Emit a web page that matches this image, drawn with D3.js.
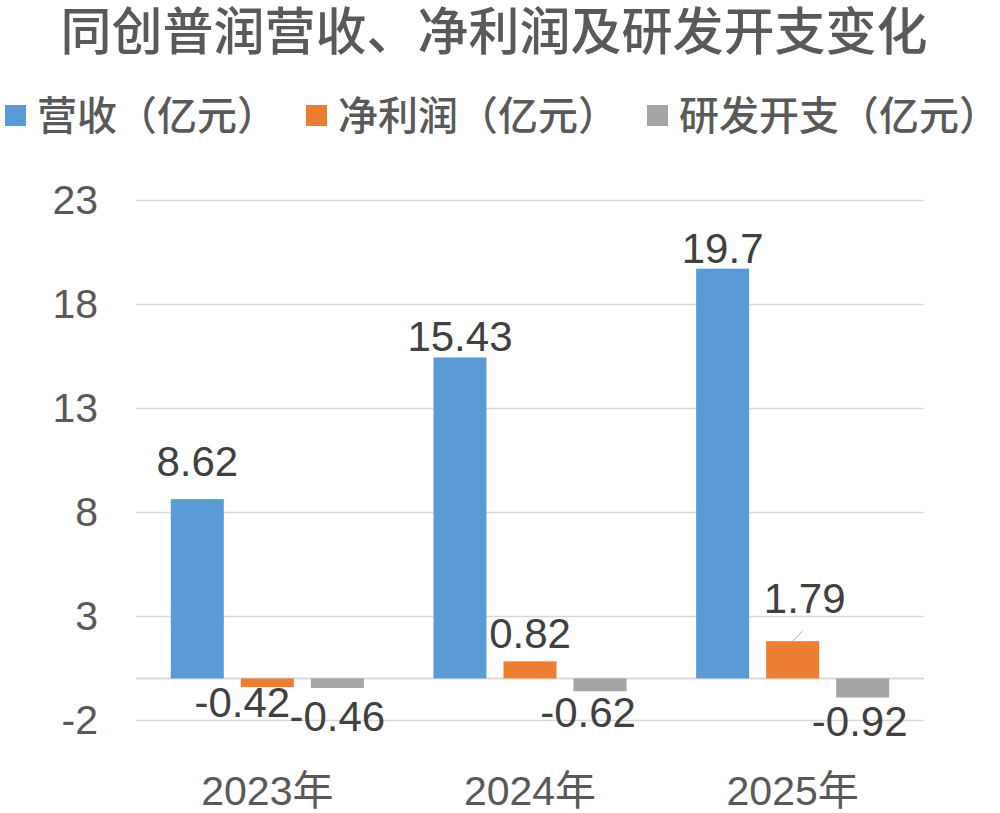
<!DOCTYPE html>
<html>
<head>
<meta charset="utf-8">
<script src="https://cdn.jsdelivr.net/npm/d3@7"></script>
<style>
  html, body { margin: 0; padding: 0; background: #fff; }
  text { font-family: "Liberation Sans", Arial, "Noto Sans CJK SC", sans-serif; }
</style>
</head>
<body>
<div id="chart"></div>
<script>
const years = ['2023年', '2024年', '2025年']
const seriesNames = ['营收（亿元）', '净利润（亿元）', '研发开支（亿元）']
const revenue = [8.62, 15.43, 19.7]
const netProfit = [-0.42, 0.82, 1.79]
const rdSpend = [-0.46, -0.62, -0.92]
const yTicks = [-2, 3, 8, 13, 18, 23]

const colors = ['#5B9BD5', '#ED7D31', '#A5A5A5']

// label nudges (px), keyed series-year, where labels were dragged by hand
const nudges = {
  '0-0': [0, -14], '0-1': [0, 3], '0-2': [0, 3],
  '1-0': [-25, -7], '1-1': [0, -4], '1-2': [12, -19],
  '2-0': [0, 6], '2-1': [-12, -1], '2-2': [-3, 1]
}

const width = 1000
const height = 813
const margin = { top: 200, right: 76, bottom: 93, left: 136 }

const svg = d3.select('#chart')
  .append('svg')
  .attr('width', width)
  .attr('height', height)

const series = [revenue, netProfit, rdSpend]
const rows = []
years.forEach((year, i) => {
  series.forEach((vals, s) => rows.push({ year, i, s, value: vals[i] }))
})

const x0 = d3.scaleBand()
  .domain(years)
  .range([margin.left, width - margin.right])
  .paddingInner(0.265)
  .paddingOuter(0.1325)

const x1 = d3.scaleBand()
  .domain(d3.range(series.length))
  .range([0, x0.bandwidth()])
  .paddingInner(0.243)

const y = d3.scaleLinear()
  .domain([-2, 23])
  .range([height - margin.bottom, margin.top])

// title
svg.append('text')
  .attr('x', 494)
  .attr('y', 50)
  .attr('text-anchor', 'middle')
  .attr('font-size', 51)
  .attr('font-weight', 500)
  .attr('fill', '#595959')
  .text('同创普润营收、净利润及研发开支变化')

// legend
let lx = 5
seriesNames.forEach((name, i) => {
  const g = svg.append('g').attr('transform', `translate(${lx},0)`)
  g.append('rect')
    .attr('x', 0)
    .attr('y', 105)
    .attr('width', 21)
    .attr('height', 21)
    .attr('fill', colors[i])
  const t = g.append('text')
    .attr('x', 32)
    .attr('y', 130)
    .attr('font-size', 40)
    .attr('font-weight', 500)
    .attr('fill', '#595959')
    .text(name)
  lx += 32 + t.node().getComputedTextLength() + 29
})

// grid
svg.append('g')
  .attr('transform', `translate(${margin.left},0)`)
  .call(d3.axisLeft(y).tickValues(yTicks).tickSize(-(width - margin.left - margin.right)).tickFormat(''))
  .call(g => g.select('.domain').remove())
  .call(g => g.selectAll('line').attr('stroke', '#D9D9D9').attr('stroke-width', 1.5))

// y tick labels
svg.append('g')
  .attr('transform', `translate(${margin.left},0)`)
  .call(d3.axisLeft(y).tickValues(yTicks).tickSize(0).tickPadding(38).tickFormat(d => String(d)))
  .call(g => g.select('.domain').remove())
  .call(g => g.selectAll('text')
    .attr('font-size', 41)
    .attr('fill', '#595959')
    .style('font-family', '"Liberation Sans", Arial, sans-serif'))

// zero line
svg.append('line')
  .attr('x1', margin.left)
  .attr('x2', width - margin.right)
  .attr('y1', y(0))
  .attr('y2', y(0))
  .attr('stroke', '#D9D9D9')
  .attr('stroke-width', 2)

// bars
svg.append('g')
  .selectAll('rect')
  .data(rows)
  .join('rect')
  .attr('x', d => x0(d.year) + x1(d.s))
  .attr('y', d => y(Math.max(0, d.value)))
  .attr('width', x1.bandwidth())
  .attr('height', d => Math.abs(y(d.value) - y(0)))
  .attr('fill', d => colors[d.s])

// leader line for the moved 1.79 label
const lead = rows.find(d => d.i === 2 && d.s === 1)
svg.append('line')
  .attr('x1', x0(lead.year) + x1(lead.s) + x1.bandwidth() / 2)
  .attr('y1', y(lead.value))
  .attr('x2', x0(lead.year) + x1(lead.s) + x1.bandwidth() / 2 + 10)
  .attr('y2', y(lead.value) - 10)
  .attr('stroke', '#A6A6A6')
  .attr('stroke-width', 1)

// value labels
svg.append('g')
  .selectAll('text')
  .data(rows)
  .join('text')
  .attr('x', d => {
    const n = nudges[`${d.s}-${d.i}`] || [0, 0]
    return x0(d.year) + x1(d.s) + x1.bandwidth() / 2 + n[0]
  })
  .attr('y', d => {
    const n = nudges[`${d.s}-${d.i}`] || [0, 0]
    return (d.value >= 0 ? y(d.value) - 9 : y(d.value) + 37) + n[1]
  })
  .attr('text-anchor', 'middle')
  .attr('font-size', 42)
  .attr('fill', '#404040')
  .text(d => d.value)

// category labels
svg.append('g')
  .selectAll('text')
  .data(years)
  .join('text')
  .attr('x', d => x0(d) + x0.bandwidth() / 2)
  .attr('y', 805)
  .attr('text-anchor', 'middle')
  .attr('font-size', 41)
  .attr('fill', '#595959')
  .text(d => d)
</script>
</body>
</html>
